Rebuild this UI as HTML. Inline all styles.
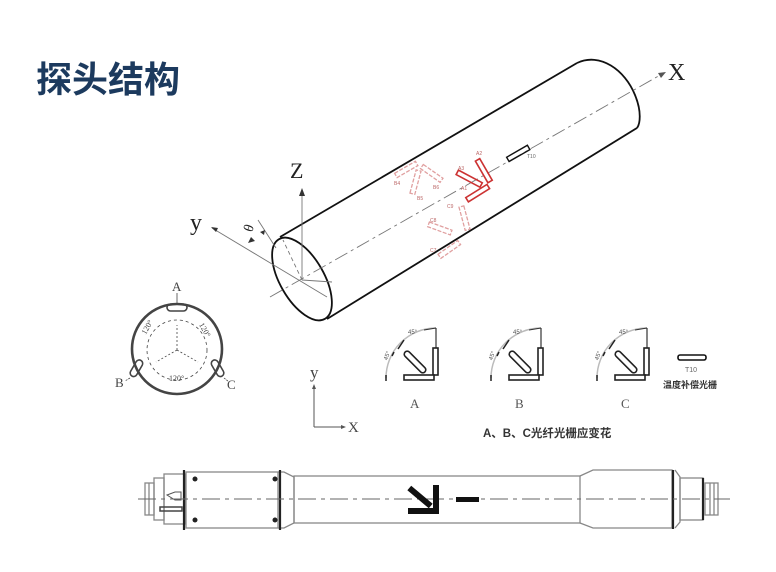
<!DOCTYPE html>
<html><head><meta charset="utf-8"><style>
html,body{margin:0;padding:0;background:#fff;}
svg{display:block}
</style></head><body>
<svg width="776" height="572" viewBox="0 0 776 572" xmlns="http://www.w3.org/2000/svg">
<rect width="776" height="572" fill="#fff"/>
<text x="36" y="92" font-family="Liberation Sans, Noto Sans CJK SC, sans-serif" font-size="36" font-weight="bold" fill="#1c3a5e">探头结构</text>

<!-- cylinder -->
<g fill="none" stroke="#111">
  <line x1="280" y1="237" x2="577" y2="63" stroke-width="1.8"/>
  <line x1="327" y1="319" x2="637" y2="128" stroke-width="1.8"/>
  <path d="M577,63 C600,52 625,70 635,95 C642,112 640,124 637,128" stroke-width="1.8"/>
  <ellipse cx="302" cy="279" rx="22" ry="46" transform="rotate(-30 302 279)" stroke-width="1.8"/>
</g>
<g stroke="#777" fill="none" stroke-width="0.9">
  <line x1="270" y1="297" x2="662" y2="74" stroke-dasharray="14,4,3,4"/>
  <line x1="302" y1="280" x2="302" y2="192"/>
  <line x1="212" y1="228" x2="327" y2="297"/>
  <line x1="302" y1="280" x2="283" y2="240" stroke-dasharray="4,3"/>
  <line x1="302" y1="280" x2="332" y2="282"/>
  <line x1="258" y1="220" x2="276" y2="248"/>
</g>
<path d="M302,188 l-3,8 h6z" fill="#333"/>
<path d="M211,227 l7,1 l-2,4z" fill="#333"/>
<path d="M666,72 l-8,1 l3,5z" fill="#555"/>
<path d="M248,243 l3,-6 l4,4z M260,232 l5,-2 l-1,5z" fill="#333"/>
<text x="668" y="80" font-family="Liberation Serif, serif" font-size="24" fill="#222">X</text>
<text x="290" y="178" font-family="Liberation Serif, serif" font-size="22" fill="#222">Z</text>
<text x="190" y="230" font-family="Liberation Serif, serif" font-size="24" fill="#222">y</text>
<text x="243" y="232" font-family="Liberation Serif, serif" font-size="14" fill="#222" transform="rotate(-70 248 226)">θ</text>

<!-- sensors -->
<g fill="none">
  <rect x="465" y="191" width="25" height="5" transform="rotate(-32 477 193)" stroke="#c33" stroke-width="1.6"/>
  <rect x="472" y="168" width="25" height="5" transform="rotate(60 484 170)" stroke="#c33" stroke-width="1.6"/>
  <rect x="456" y="176" width="27" height="5" transform="rotate(28 469 178)" stroke="#c33" stroke-width="1.6"/>
  <rect x="506" y="151" width="24" height="5" transform="rotate(-30 518 153)" stroke="#111" stroke-width="1.4"/>
  <g stroke="#e0a0a0" stroke-width="1.3" stroke-dasharray="4,1.5">
    <rect x="394" y="167" width="24" height="5" transform="rotate(-30 406 169)"/>
    <rect x="420" y="171" width="24" height="5" transform="rotate(35 432 173)"/>
    <rect x="403" y="180" width="24" height="5" transform="rotate(-75 415 182)"/>
    <rect x="453" y="216" width="24" height="5" transform="rotate(75 465 218)"/>
    <rect x="428" y="226" width="24" height="5" transform="rotate(20 440 228)"/>
    <rect x="437" y="247" width="24" height="5" transform="rotate(-35 449 249)"/>
  </g>
</g>
<g font-family="Liberation Sans, sans-serif" font-size="5" fill="#b66">
  <text x="476" y="155">A2</text><text x="458" y="170">A3</text><text x="461" y="190">A1</text>
  <text x="394" y="185">B4</text><text x="433" y="189">B6</text><text x="417" y="200">B5</text>
  <text x="447" y="208">C9</text><text x="430" y="222">C8</text><text x="430" y="252">C7</text>
  <text x="527" y="158" fill="#666">T10</text>
</g>

<!-- cross-section circle -->
<g fill="none" stroke="#444">
  <circle cx="177" cy="349" r="45" stroke-width="2.6"/>
  <circle cx="177" cy="350" r="30" stroke-width="0.8" stroke-dasharray="3,3"/>
  <path d="M177,350 V325 M177,350 L156,362 M177,350 L198,362" stroke-width="0.8" stroke-dasharray="2,2"/>
  <rect x="167" y="304" width="20" height="7" rx="3.5" stroke-width="1.6"/>
  <rect x="127" y="365" width="18" height="7" rx="3.5" transform="rotate(-60 136 368)" stroke-width="1.6"/>
  <rect x="209" y="365" width="18" height="7" rx="3.5" transform="rotate(60 218 368)" stroke-width="1.6"/>
  <line x1="177" y1="293" x2="177" y2="303" stroke-width="0.8"/>
  <line x1="130" y1="378" x2="125" y2="381" stroke-width="0.8" stroke-dasharray="2,1"/>
  <line x1="224" y1="378" x2="229" y2="382" stroke-width="0.8" stroke-dasharray="2,1"/>
</g>
<g font-family="Liberation Serif, serif" fill="#444">
  <text x="172" y="291" font-size="13">A</text>
  <text x="115" y="387" font-size="13">B</text>
  <text x="227" y="389" font-size="13">C</text>
  <text x="141" y="333" font-size="8" transform="rotate(-60 145 330)">120°</text>
  <text x="198" y="330" font-size="8" transform="rotate(60 203 328)">120°</text>
  <text x="169" y="381" font-size="8">120°</text>
</g>

<!-- small axes -->
<g stroke="#555" stroke-width="1" fill="none">
  <line x1="314" y1="388" x2="314" y2="427"/>
  <line x1="314" y1="427" x2="342" y2="427"/>
</g>
<path d="M314,384 l-2,5 h4z M346,427 l-5,-2 v4z" fill="#555"/>
<text x="310" y="378" font-family="Liberation Serif, serif" font-size="17" fill="#444">y</text>
<text x="348" y="432" font-family="Liberation Serif, serif" font-size="15" fill="#444">X</text>

<!-- ABC insets -->
<defs>
<g id="ins">
  <path d="M0,-50 A50,50 0 0 0 -50,0" fill="none" stroke="#bbb" stroke-width="1.5"/>
  <path d="M-32,-38 l-6,9 M-42,-26 l-2,4" stroke="#222" stroke-width="1.5"/>
  <line x1="0" y1="-50" x2="-12" y2="-48" stroke="#333" stroke-width="1"/>
  <line x1="0" y1="-50" x2="0" y2="-30" stroke="#333" stroke-width="1.2"/>
  <rect x="-3" y="-30" width="5" height="27" fill="#fff" stroke="#222" stroke-width="1.6"/>
  <rect x="-32" y="-3" width="30" height="5" fill="#fff" stroke="#222" stroke-width="1.6"/>
  <rect x="-35" y="-19" width="28" height="6" rx="3" transform="rotate(45 -21 -16)" fill="#fff" stroke="#222" stroke-width="1.6"/>
  <text x="-28" y="-44" font-size="6" fill="#555" font-family="Liberation Sans, sans-serif">45°</text>
  <text x="-52" y="-18" font-size="6" fill="#555" transform="rotate(-70 -50 -20)" font-family="Liberation Sans, sans-serif">45°</text>
  <line x1="-50" y1="-3" x2="-50" y2="3" stroke="#222" stroke-width="1.5"/>
</g>
</defs>
<use href="#ins" x="436" y="378"/>
<use href="#ins" x="541" y="378"/>
<use href="#ins" x="647" y="378"/>
<g font-family="Liberation Serif, serif" font-size="13" fill="#555">
  <text x="410" y="408">A</text><text x="515" y="408">B</text><text x="621" y="408">C</text>
</g>
<text x="483" y="437" font-family="Liberation Sans, Noto Sans CJK SC, sans-serif" font-size="11.5" font-weight="bold" fill="#333">A、B、C光纤光栅应变花</text>
<rect x="678" y="355" width="28" height="5" rx="2" fill="#fff" stroke="#111" stroke-width="1.6"/>
<text x="685" y="372" font-family="Liberation Sans, sans-serif" font-size="7" fill="#666">T10</text>
<text x="663" y="388" font-family="Liberation Sans, Noto Sans CJK SC, sans-serif" font-size="9" font-weight="bold" fill="#333">温度补偿光栅</text>

<!-- bottom tube -->
<g fill="none" stroke="#888" stroke-width="1.3">
  <rect x="145" y="483" width="9" height="32"/>
  <path d="M149,483 v32"/>
  <rect x="154" y="478" width="10" height="42"/>
  <rect x="164" y="474" width="21" height="50"/>
  <rect x="186" y="472" width="92" height="56"/>
  <path d="M278,472 h6 l10,5 v46 l-10,5 h-6"/>
  <rect x="294" y="476" width="286" height="47"/>
  <path d="M580,476 l13,-6 h79 v58 h-79 l-13,-5"/>
  <path d="M675,470 l5,7 v45 l-5,6"/>
  <rect x="680" y="478" width="23" height="42"/>
  <rect x="705" y="483" width="13" height="32"/>
  <path d="M710,483 v32 M714,483 v32"/>
</g>
<g stroke="#222" stroke-width="2.2">
  <line x1="184" y1="470" x2="184" y2="530"/>
  <line x1="280" y1="470" x2="280" y2="530"/>
  <line x1="673" y1="470" x2="673" y2="529"/>
  <line x1="703" y1="478" x2="703" y2="520"/>
</g>
<g fill="#222">
  <circle cx="195" cy="479" r="2.5"/><circle cx="195" cy="520" r="2.5"/>
  <circle cx="275" cy="479" r="2.5"/><circle cx="275" cy="520" r="2.5"/>
</g>
<path d="M167,495 l8,-3 h6 v8 h-6z" fill="none" stroke="#555" stroke-width="1"/>
<rect x="160" y="507" width="22" height="4" fill="none" stroke="#444" stroke-width="1.5"/>
<line x1="138" y1="499" x2="730" y2="499" stroke="#666" stroke-width="1" stroke-dasharray="18,5,4,5"/>
<rect x="433" y="485" width="6" height="28" fill="#111"/>
<rect x="408" y="508" width="31" height="6" fill="#111"/>
<rect x="406" y="494" width="28" height="6" fill="#111" transform="rotate(40 420 497)"/>
<rect x="456" y="497" width="23" height="5" fill="#111"/>
</svg>
</body></html>
